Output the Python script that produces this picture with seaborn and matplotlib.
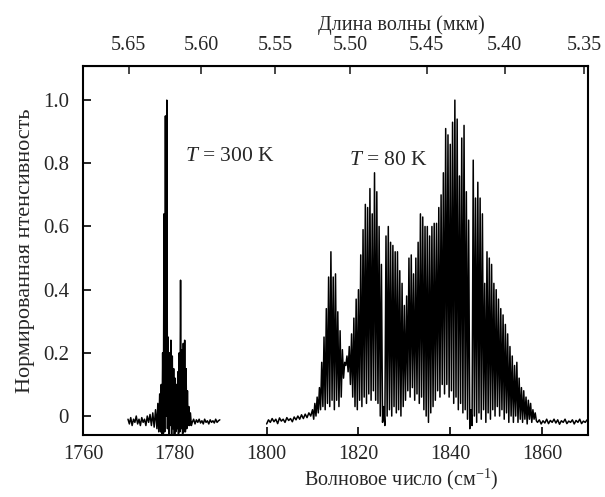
import numpy as np
import pandas as pd
import matplotlib
matplotlib.use("Agg")
import matplotlib.pyplot as plt
import seaborn as sns

# ---- data ----
# 300 K spectrum: noisy baseline either side of the band
base_300k_wn = [1769.8, 1770.1, 1770.4, 1770.7, 1771.0, 1771.3, 1771.6, 1771.9, 1772.2, 1772.5,
                1772.8, 1773.1, 1773.4, 1773.7, 1774.0, 1774.3, 1774.6, 1774.9, 1775.2, 1775.5, 1775.8,
                1783.8, 1784.1, 1784.4, 1784.7, 1785.0, 1785.3, 1785.6, 1785.9, 1786.2, 1786.5,
                1786.8, 1787.1, 1787.4, 1787.7, 1788.0, 1788.3, 1788.6, 1788.9, 1789.2, 1789.5, 1789.8]
base_300k_int = [-0.01, -0.025, -0.005, -0.03, -0.01, -0.02, 0.0, -0.025, -0.01, -0.03,
                 -0.005, -0.02, -0.01, -0.03, 0.0, -0.02, 0.005, -0.03, 0.01, -0.035, 0.02,
                 -0.02, -0.01, -0.025, -0.012, -0.02, -0.01, -0.022, -0.015, -0.025, -0.01,
                 -0.02, -0.015, -0.025, -0.012, -0.02, -0.015, -0.022, -0.01, -0.02, -0.015, -0.012]
peak_300k_wn = [1776.3, 1776.7, 1777.05, 1777.35, 1777.65, 1777.95, 1778.25, 1778.55, 1778.85, 1779.15,
                1779.45, 1779.75, 1780.05, 1780.35, 1780.65, 1780.95, 1781.25, 1781.55, 1781.85, 1782.15,
                1782.45, 1782.75, 1783.05, 1783.4]
peak_300k_int = [0.04, 0.07, 0.10, 0.20, 0.64, 0.95, 1.0, 0.25, 0.20, 0.24,
                 0.19, 0.15, 0.12, 0.10, 0.14, 0.20, 0.43, 0.21, 0.23, 0.24,
                 0.15, 0.08, 0.03, 0.01]
dip_300k_wn = [1776.1, 1776.5, 1776.9, 1777.2, 1777.5, 1777.8, 1778.1, 1778.4, 1778.7, 1779.0,
               1779.3, 1779.6, 1779.9, 1780.2, 1780.5, 1780.8, 1781.1, 1781.4, 1781.7, 1782.0,
               1782.3, 1782.6, 1782.9, 1783.2, 1783.6]
dip_300k_int = [-0.04, -0.05, -0.05, -0.06, -0.06, -0.05, 0.0, -0.04, -0.06, -0.03,
                -0.06, -0.04, -0.06, -0.05, -0.04, -0.06, -0.05, -0.04, -0.06, -0.05,
                -0.05, -0.04, -0.03, -0.03, -0.03]

# 80 K spectrum
base_80k_wn = [1800.0, 1800.4, 1800.8, 1801.2, 1801.6, 1802.0, 1802.4, 1802.8, 1803.2, 1803.6,
               1804.0, 1804.4, 1804.8, 1805.2, 1805.6, 1806.0, 1806.4, 1806.8, 1807.2, 1807.6,
               1808.0, 1808.4, 1808.8, 1809.2, 1809.6,
               1859.0, 1859.4, 1859.8, 1860.2, 1860.6, 1861.0, 1861.4, 1861.8, 1862.2, 1862.6,
               1863.0, 1863.4, 1863.8, 1864.2, 1864.6, 1865.0, 1865.4, 1865.8, 1866.2, 1866.6,
               1867.0, 1867.4, 1867.8, 1868.2, 1868.6, 1869.0, 1869.4, 1869.8]
base_80k_int = [-0.025, -0.012, -0.02, -0.008, -0.018, -0.01, -0.024, -0.006, -0.016, -0.01,
                -0.02, -0.005, -0.014, -0.008, -0.018, -0.003, -0.012, 0.0, -0.01, 0.004,
                -0.008, 0.006, -0.005, 0.01, 0.0,
                -0.02, -0.012, -0.025, -0.015, -0.022, -0.01, -0.024, -0.014, -0.02, -0.01,
                -0.022, -0.012, -0.026, -0.015, -0.02, -0.01, -0.024, -0.016, -0.02, -0.012,
                -0.025, -0.014, -0.02, -0.01, -0.024, -0.016, -0.02, -0.012]
peak_80k_wn = [1810.0, 1810.5, 1811.0, 1811.5, 1812.0, 1812.5, 1813.0, 1813.5, 1814.0, 1814.5,
               1815.0, 1815.5, 1816.0, 1816.5, 1817.0, 1817.5, 1818.0, 1818.5, 1819.0, 1819.5,
               1820.0, 1820.5, 1821.0, 1821.5, 1822.0, 1822.5, 1823.0, 1823.5, 1824.0, 1824.5,
               1825.0, 1825.5, 1826.0, 1826.5, 1827.0, 1827.5, 1828.0, 1828.5, 1829.0, 1829.5,
               1830.0, 1830.5, 1831.0, 1831.5, 1832.0, 1832.5, 1833.0, 1833.5, 1834.0, 1834.5,
               1835.0, 1835.5, 1836.0, 1836.5, 1837.0, 1837.5, 1838.0, 1838.5, 1839.0, 1839.5,
               1840.0, 1840.5, 1841.0, 1841.5, 1842.0, 1842.5, 1843.0, 1843.5, 1844.0, 1844.5,
               1845.0, 1845.5, 1846.0, 1846.5, 1847.0, 1847.5, 1848.0, 1848.5, 1849.0, 1849.5,
               1850.0, 1850.5, 1851.0, 1851.5, 1852.0, 1852.5, 1853.0, 1853.5, 1854.0, 1854.5,
               1855.0, 1855.5, 1856.0, 1856.5, 1857.0, 1857.5, 1858.0, 1858.5]
peak_80k_int = [0.02, 0.04, 0.06, 0.09, 0.17, 0.25, 0.34, 0.44, 0.52, 0.44,
                0.45, 0.33, 0.27, 0.21, 0.17, 0.19, 0.22, 0.26, 0.31, 0.37,
                0.40, 0.51, 0.59, 0.67, 0.66, 0.72, 0.64, 0.77, 0.71, 0.60,
                0.48, 0.03, 0.57, 0.60, 0.55, 0.54, 0.52, 0.52, 0.46, 0.42,
                0.35, 0.38, 0.50, 0.51, 0.45, 0.50, 0.55, 0.64, 0.63, 0.60,
                0.60, 0.57, 0.60, 0.61, 0.61, 0.66, 0.70, 0.77, 0.91, 0.89,
                0.86, 0.93, 1.00, 0.94, 0.76, 0.88, 0.92, 0.71, 0.62, 0.02,
                0.81, 0.69, 0.74, 0.69, 0.64, 0.42, 0.52, 0.50, 0.48, 0.42,
                0.40, 0.37, 0.34, 0.32, 0.29, 0.26, 0.22, 0.19, 0.16, 0.17,
                0.12, 0.09, 0.08, 0.06, 0.05, 0.04, 0.02, 0.01]
dip_80k_wn = [1810.25, 1810.75, 1811.25, 1811.75, 1812.25, 1812.75, 1813.25, 1813.75, 1814.25, 1814.75,
              1815.25, 1815.75, 1816.25, 1816.75, 1817.25, 1817.75, 1818.25, 1818.75, 1819.25, 1819.75,
              1820.25, 1820.75, 1821.25, 1821.75, 1822.25, 1822.75, 1823.25, 1823.75, 1824.25, 1824.75,
              1825.25, 1825.75, 1826.25, 1826.75, 1827.25, 1827.75, 1828.25, 1828.75, 1829.25, 1829.75,
              1830.25, 1830.75, 1831.25, 1831.75, 1832.25, 1832.75, 1833.25, 1833.75, 1834.25, 1834.75,
              1835.25, 1835.75, 1836.25, 1836.75, 1837.25, 1837.75, 1838.25, 1838.75, 1839.25, 1839.75,
              1840.25, 1840.75, 1841.25, 1841.75, 1842.25, 1842.75, 1843.25, 1843.75, 1844.25, 1844.75,
              1845.25, 1845.75, 1846.25, 1846.75, 1847.25, 1847.75, 1848.25, 1848.75, 1849.25, 1849.75,
              1850.25, 1850.75, 1851.25, 1851.75, 1852.25, 1852.75, 1853.25, 1853.75, 1854.25, 1854.75,
              1855.25, 1855.75, 1856.25, 1856.75, 1857.25, 1857.75, 1858.25, 1858.75]
dip_80k_int = [-0.01, 0.0, 0.01, 0.02, 0.03, 0.02, 0.04, 0.03, 0.05, 0.02,
               0.05, 0.03, 0.06, 0.12, 0.16, 0.14, 0.10, 0.06, 0.03, 0.02,
               0.05, 0.03, 0.06, 0.04, 0.07, 0.05, 0.08, 0.05, 0.04, 0.0,
               -0.02, -0.03, 0.0, 0.02, 0.0, 0.03, 0.01, 0.02, 0.0, 0.03,
               0.05, 0.08, 0.06, 0.09, 0.05, 0.07, 0.04, 0.06, 0.02, 0.0,
               -0.02, 0.01, 0.03, 0.05, 0.08, 0.06, 0.10, 0.07, 0.10, 0.06,
               0.08, 0.04, 0.06, 0.02, 0.04, 0.01, 0.02, -0.01, -0.04, -0.03,
               0.0, -0.02, 0.01, -0.01, 0.02, -0.02, 0.01, -0.01, 0.02, 0.0,
               0.03, 0.0, 0.02, -0.01, 0.01, -0.02, 0.0, -0.02, 0.0, -0.02,
               -0.01, -0.02, -0.01, -0.025, -0.01, -0.02, -0.01, -0.015]

wl_ticks = [5.65, 5.60, 5.55, 5.50, 5.45, 5.40, 5.35]


def make_trace(*parts):
    wn = np.concatenate([p[0] for p in parts])
    val = np.concatenate([p[1] for p in parts])
    return pd.DataFrame({'wn': wn, 'int': val}).sort_values('wn')


trace_300k = make_trace((base_300k_wn, base_300k_int),
                        (peak_300k_wn, peak_300k_int),
                        (dip_300k_wn, dip_300k_int))
trace_80k = make_trace((base_80k_wn, base_80k_int),
                       (peak_80k_wn, peak_80k_int),
                       (dip_80k_wn, dip_80k_int))

sns.set_style("ticks")
plt.rcParams['font.family'] = ['Liberation Serif', 'DejaVu Serif']
plt.rcParams['mathtext.fontset'] = 'custom'
plt.rcParams['mathtext.rm'] = 'Liberation Serif'
plt.rcParams['mathtext.it'] = 'Liberation Serif:italic'
plt.rcParams['font.size'] = 14

fig = plt.figure(figsize=(6.05, 4.97), dpi=100)
ax = fig.add_axes([83 / 605, 62 / 497, 505 / 605, 369 / 497])

for tr in (trace_300k, trace_80k):
    sns.lineplot(data=tr, x='wn', y='int', estimator=None, sort=True,
                 color='black', lw=1.1, ax=ax)

ax.set_xlim(1760, 1870)
ax.set_ylim(-0.06, 1.108)
ax.set_xticks([1760, 1780, 1800, 1820, 1840, 1860])
ax.set_yticks([0, 0.2, 0.4, 0.6, 0.8, 1.0])
ax.set_yticklabels(['0', '0.2', '0.4', '0.6', '0.8', '1.0'])
ax.tick_params(axis='x', direction='in', length=6, width=1.2, labelsize=14.5, pad=7,
               top=False, color='black')
ax.tick_params(axis='y', direction='in', length=6, width=1.2, labelsize=15, pad=10,
               right=False, color='black')
for s in ax.spines.values():
    s.set_linewidth(1.5)
    s.set_color('black')

ax.set_xlabel('Волновое число (см$^{-1}$)', fontsize=14.5, labelpad=2)
ax.xaxis.label.set_x(0.63)
ax.set_ylabel('Нормированная нтенсивность', fontsize=16, labelpad=6)

sec = ax.secondary_xaxis('top', functions=(lambda w: 1e4 / w, lambda l: 1e4 / l))
sec.set_xticks(wl_ticks)
sec.set_xticklabels(['%.2f' % t for t in wl_ticks])
sec.tick_params(direction='in', length=6, width=1.2, labelsize=14.5, pad=8)
sec.set_xlabel('Длина волны (мкм)', fontsize=14.5, labelpad=4)
sec.xaxis.label.set_x(0.63)

ax.text(1782.2, 0.82, '$T$ = 300 K', fontsize=15.5, va='center')
ax.text(1818.0, 0.81, '$T$ = 80 K', fontsize=15.5, va='center')

fig.savefig('out.png', dpi=100)
